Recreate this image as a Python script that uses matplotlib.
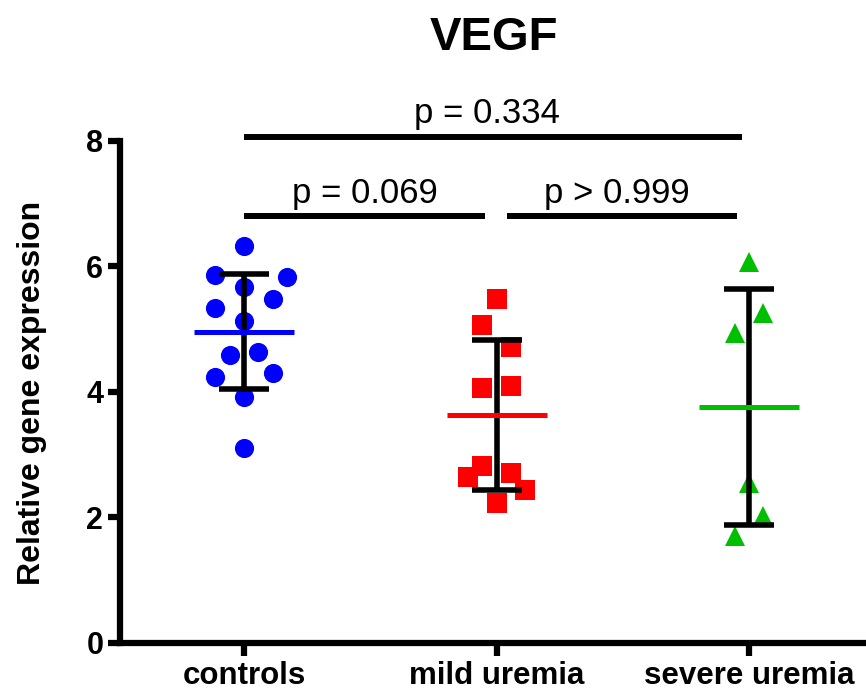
import numpy as np
import matplotlib
matplotlib.use('Agg')
import matplotlib.pyplot as plt

plt.rcParams['font.family'] = ['Liberation Sans', 'DejaVu Sans']

groups = ['controls', 'mild uremia', 'severe uremia']
colors = ['#0000FF', '#FF0000', '#00BF00']
markers = ['o', 's', '^']

# relative VEGF expression per subject
controls = [6.33, 5.86, 5.83, 5.67, 5.48, 5.34, 5.13, 4.59, 4.64, 4.24, 4.30, 3.92, 3.11]
mild = [5.48, 5.07, 4.72, 4.07, 4.10, 2.82, 2.65, 2.71, 2.44, 2.23]
severe = [6.07, 5.26, 4.94, 2.55, 2.02, 1.71]

# horizontal scatter slots (in steps) so overlapping points stay visible
controls_slot = [0, -2, 3, 0, 2, -2, 0, -1, 1, -2, 2, 0, 0]
mild_slot = [0, -1, 1, -1, 1, -1, -2, 1, 2, 0]
severe_slot = [0, 1, -1, 0, 1, -1]

# pairwise comparisons: (group a, group b, label)
comparisons = [(0, 2, 'p = 0.334'), (0, 1, 'p = 0.069'), (1, 2, 'p > 0.999')]

data = [controls, mild, severe]
slots = [controls_slot, mild_slot, severe_slot]

fig = plt.figure(figsize=(8.66, 6.91), dpi=100)
ax = fig.add_axes([0.1386, 0.0695, 0.8614, 0.7265])

STEP = 0.057
for i, (vals, sl) in enumerate(zip(data, slots)):
    vals = np.asarray(vals)
    xs = i + STEP * np.asarray(sl)
    ax.plot(xs, vals, linestyle='none', marker=markers[i], markersize=13.8,
            color=colors[i], markeredgewidth=0, zorder=2)
    m, sd = vals.mean(), vals.std(ddof=1)
    ax.errorbar(i, m, yerr=sd, color='black', elinewidth=4, capsize=18,
                capthick=4, zorder=3)
    ax.hlines(m, i - 0.198, i + 0.198, color=colors[i], linewidth=3.6, zorder=4)

# significance brackets
bar_y = {(0, 2): 8.06, (0, 1): 6.80, (1, 2): 6.80}
txt_pos = {(0, 2): (0.962, 8.29), (0, 1): (0.477, 7.01), (1, 2): (1.477, 7.01)}
bar_x = {(0, 2): (0.0, 1.972), (0, 1): (0.0, 0.954), (1, 2): (1.04, 1.952)}
for a, b, lab in comparisons:
    x0, x1 = bar_x[(a, b)]
    y = bar_y[(a, b)]
    ax.plot([x0, x1], [y, y], color='black', linewidth=4.3,
            solid_capstyle='butt', clip_on=False)
    tx, ty = txt_pos[(a, b)]
    ax.text(tx, ty, lab, ha='center', va='baseline', fontsize=25)

ax.set_xlim(-0.491, 2.463)
ax.set_ylim(0, 8)
ax.set_xticks(range(len(groups)))
ax.set_xticklabels(groups, fontsize=22.5, fontweight='bold')
ax.set_yticks([0, 2, 4, 6, 8])
ax.set_yticklabels(['0', '2', '4', '6', '8'], fontsize=22, fontweight='bold')
ax.tick_params(axis='both', width=4.5, length=9, color='black')
ax.tick_params(axis='x', pad=4)
ax.tick_params(axis='y', pad=3)
for s in ['top', 'right']:
    ax.spines[s].set_visible(False)
for s in ['left', 'bottom']:
    ax.spines[s].set_linewidth(4.5)

fig.text(0.037, 0.431, 'Relative gene expression', rotation=90,
         ha='center', va='center', fontsize=23, fontweight='bold')
fig.text(0.570, 1 - 50 / 691, 'VEGF', ha='center', va='baseline',
         fontsize=34, fontweight='bold')

fig.savefig('out.png', dpi=100, facecolor='white')
